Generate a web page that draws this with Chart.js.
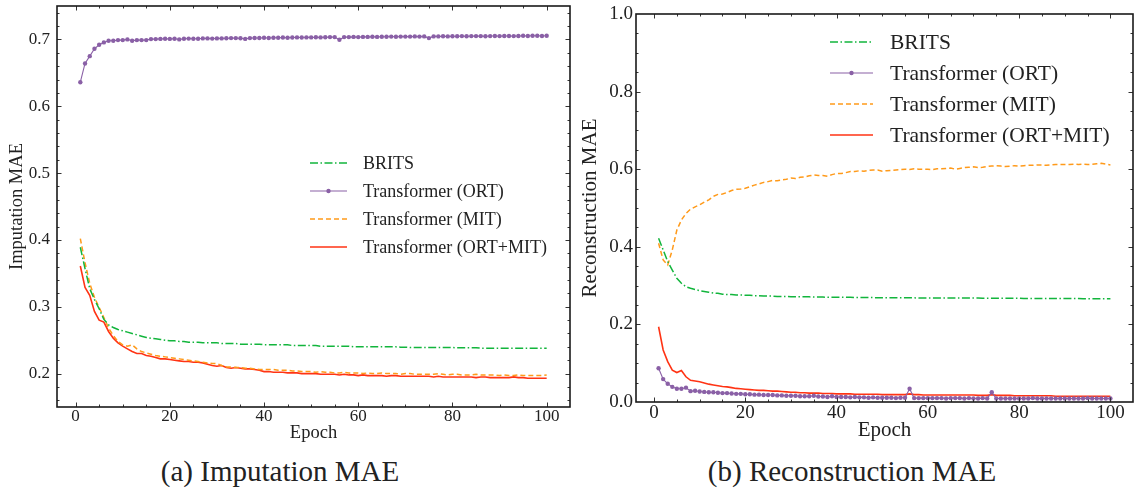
<!DOCTYPE html>
<html><head><meta charset="utf-8">
<script src="https://cdn.jsdelivr.net/npm/chart.js@4/dist/chart.umd.min.js"></script>
<style>
html,body{margin:0;padding:0;background:#fff;width:1136px;height:489px;overflow:hidden;position:relative}
.box{position:absolute;top:0}
.cap{position:absolute;top:457px;font-family:"Liberation Serif",serif;font-size:29px;line-height:1;color:#222;white-space:nowrap;transform:translateX(-50%)}
</style></head><body>
<div class="box" style="left:0;width:576px;height:445px"><canvas id="c1" width="576" height="445"></canvas></div>
<div class="box" style="left:576px;width:560px;height:445px"><canvas id="c2" width="560" height="445"></canvas></div>
<div class="cap" id="capA" style="left:280px"></div>
<div class="cap" id="capB" style="left:852px"></div>
<script>
const epochs = [1,2,3,4,5,6,7,8,9,10,11,12,13,14,15,16,17,18,19,20,21,22,23,24,25,26,27,28,29,30,31,32,33,34,35,36,37,38,39,40,41,42,43,44,45,46,47,48,49,50,51,52,53,54,55,56,57,58,59,60,61,62,63,64,65,66,67,68,69,70,71,72,73,74,75,76,77,78,79,80,81,82,83,84,85,86,87,88,89,90,91,92,93,94,95,96,97,98,99,100];
const seriesNames = ['BRITS','Transformer (ORT)','Transformer (MIT)','Transformer (ORT+MIT)'];
const captions = ['(a) Imputation MAE','(b) Reconstruction MAE'];
const xTitle = 'Epoch';
const yTitles = ['Imputation MAE','Reconstruction MAE'];
const xTicks = [0,20,40,60,80,100];
const xMinorTicks = [5,10,15,25,30,35,45,50,55,65,70,75,85,90,95];
const yTicksA = [0.2,0.3,0.4,0.5,0.6,0.7];
const yMinorTicksA = [0.16,0.18,0.22,0.24,0.26,0.28,0.32,0.34,0.36,0.38,0.42,0.44,0.46,0.48,0.52,0.54,0.56,0.58,0.62,0.64,0.66,0.68,0.72,0.74];
const yTicksB = [0.0,0.2,0.4,0.6,0.8,1.0];
const yMinorTicksB = [0.05,0.1,0.15,0.25,0.3,0.35,0.45,0.5,0.55,0.65,0.7,0.75,0.85,0.9,0.95];

// (a) Imputation MAE
const britsImp = [0.389,0.357,0.327,0.311,0.297,0.281,0.273,0.269,0.266,0.264,0.262,0.260,0.258,0.256,0.254,0.253,0.252,0.251,0.250,0.249,0.249,0.248,0.248,0.247,0.247,0.247,0.246,0.246,0.246,0.246,0.245,0.245,0.245,0.245,0.244,0.244,0.244,0.244,0.244,0.243,0.243,0.243,0.243,0.243,0.243,0.242,0.242,0.242,0.242,0.242,0.242,0.241,0.241,0.241,0.241,0.241,0.241,0.241,0.240,0.240,0.240,0.240,0.240,0.240,0.240,0.240,0.240,0.240,0.2395,0.2395,0.239,0.239,0.239,0.239,0.239,0.239,0.239,0.239,0.239,0.239,0.2385,0.2385,0.2385,0.2385,0.2385,0.238,0.238,0.238,0.238,0.238,0.238,0.238,0.238,0.238,0.238,0.238,0.238,0.238,0.238,0.238];
const ortImp = [0.636,0.664,0.675,0.686,0.692,0.6955,0.698,0.698,0.699,0.699,0.700,0.698,0.699,0.699,0.699,0.7005,0.7005,0.7008,0.701,0.7008,0.701,0.700,0.701,0.7012,0.701,0.701,0.7015,0.7015,0.7012,0.7015,0.7015,0.7018,0.702,0.702,0.7018,0.7008,0.702,0.7022,0.7022,0.7025,0.7022,0.7025,0.7025,0.7028,0.7025,0.7028,0.703,0.7028,0.703,0.703,0.7032,0.703,0.7032,0.7035,0.7035,0.6995,0.7035,0.7035,0.7038,0.7035,0.7038,0.7038,0.704,0.7038,0.704,0.704,0.7042,0.704,0.7042,0.7042,0.7042,0.7045,0.7042,0.7045,0.702,0.7045,0.7045,0.7048,0.7045,0.7048,0.7048,0.705,0.7048,0.705,0.705,0.705,0.7048,0.705,0.7052,0.705,0.7052,0.7052,0.705,0.7052,0.7055,0.7052,0.7055,0.7055,0.7052,0.7055];
const mitImp = [0.402,0.366,0.335,0.314,0.299,0.284,0.268,0.257,0.248,0.243,0.241,0.243,0.237,0.233,0.231,0.229,0.227,0.226,0.225,0.224,0.223,0.222,0.221,0.220,0.219,0.218,0.217,0.216,0.215,0.215,0.212,0.210,0.210,0.209,0.209,0.208,0.208,0.207,0.206,0.206,0.206,0.206,0.205,0.205,0.205,0.204,0.204,0.203,0.203,0.203,0.202,0.203,0.202,0.202,0.201,0.201,0.202,0.201,0.201,0.201,0.200,0.201,0.200,0.200,0.201,0.200,0.200,0.200,0.199,0.200,0.200,0.199,0.199,0.199,0.199,0.199,0.200,0.199,0.198,0.199,0.199,0.198,0.198,0.198,0.199,0.198,0.198,0.198,0.198,0.197,0.198,0.197,0.197,0.198,0.197,0.197,0.197,0.197,0.197,0.198];
const ortMitImp = [0.361,0.329,0.317,0.293,0.280,0.277,0.263,0.253,0.246,0.241,0.237,0.233,0.230,0.230,0.227,0.226,0.224,0.222,0.222,0.221,0.220,0.219,0.218,0.218,0.217,0.217,0.216,0.214,0.212,0.211,0.212,0.209,0.208,0.209,0.208,0.207,0.207,0.206,0.205,0.203,0.203,0.202,0.202,0.202,0.201,0.201,0.201,0.200,0.200,0.200,0.200,0.199,0.199,0.199,0.199,0.198,0.199,0.198,0.198,0.197,0.198,0.197,0.197,0.197,0.197,0.196,0.197,0.197,0.196,0.196,0.196,0.196,0.196,0.196,0.196,0.195,0.196,0.195,0.195,0.195,0.195,0.195,0.195,0.195,0.194,0.195,0.195,0.194,0.194,0.194,0.194,0.194,0.195,0.194,0.194,0.193,0.193,0.193,0.193,0.193];

// (b) Reconstruction MAE
const britsRec = [0.422,0.392,0.362,0.340,0.319,0.306,0.297,0.293,0.290,0.287,0.285,0.283,0.281,0.280,0.278,0.277,0.277,0.276,0.276,0.275,0.275,0.274,0.274,0.273,0.273,0.273,0.272,0.272,0.272,0.271,0.271,0.271,0.271,0.271,0.2705,0.2705,0.2705,0.270,0.270,0.270,0.270,0.270,0.270,0.2695,0.2695,0.2695,0.2695,0.269,0.269,0.269,0.269,0.269,0.269,0.2685,0.2685,0.2685,0.2685,0.268,0.268,0.268,0.268,0.268,0.268,0.268,0.268,0.268,0.268,0.2678,0.2678,0.2678,0.2678,0.2675,0.2675,0.2675,0.2675,0.2675,0.2675,0.2675,0.2675,0.2675,0.267,0.267,0.267,0.267,0.267,0.267,0.267,0.2665,0.2665,0.2665,0.2665,0.2665,0.2665,0.266,0.266,0.266,0.266,0.266,0.266,0.266];
const ortRec = [0.087,0.059,0.047,0.039,0.034,0.034,0.037,0.028,0.029,0.027,0.026,0.025,0.025,0.024,0.023,0.023,0.022,0.021,0.021,0.020,0.020,0.019,0.019,0.018,0.018,0.018,0.017,0.017,0.016,0.016,0.016,0.015,0.015,0.015,0.016,0.014,0.014,0.013,0.015,0.013,0.013,0.013,0.012,0.013,0.012,0.012,0.011,0.012,0.011,0.011,0.011,0.011,0.010,0.011,0.011,0.034,0.010,0.010,0.010,0.010,0.010,0.010,0.010,0.009,0.010,0.010,0.010,0.009,0.010,0.009,0.009,0.010,0.009,0.025,0.009,0.009,0.009,0.009,0.009,0.009,0.009,0.009,0.010,0.009,0.009,0.009,0.009,0.009,0.009,0.009,0.009,0.009,0.009,0.009,0.010,0.009,0.009,0.009,0.009,0.009];
const mitRec = [0.409,0.366,0.353,0.392,0.443,0.469,0.486,0.497,0.503,0.508,0.515,0.521,0.530,0.535,0.536,0.540,0.545,0.548,0.549,0.551,0.555,0.559,0.562,0.566,0.568,0.571,0.570,0.572,0.574,0.577,0.576,0.579,0.580,0.583,0.585,0.584,0.584,0.582,0.586,0.589,0.589,0.591,0.594,0.594,0.596,0.595,0.597,0.598,0.598,0.595,0.596,0.597,0.598,0.599,0.600,0.599,0.601,0.600,0.600,0.600,0.599,0.601,0.601,0.602,0.603,0.600,0.602,0.604,0.605,0.606,0.604,0.605,0.607,0.608,0.609,0.608,0.607,0.608,0.609,0.608,0.609,0.610,0.610,0.611,0.611,0.610,0.611,0.612,0.612,0.612,0.612,0.613,0.612,0.613,0.612,0.613,0.614,0.615,0.613,0.611];
const ortMitRec = [0.194,0.134,0.104,0.082,0.076,0.081,0.065,0.056,0.054,0.052,0.049,0.046,0.044,0.042,0.040,0.039,0.037,0.035,0.034,0.033,0.032,0.031,0.030,0.030,0.029,0.028,0.028,0.027,0.026,0.025,0.025,0.024,0.024,0.023,0.023,0.023,0.022,0.022,0.022,0.021,0.021,0.021,0.021,0.020,0.020,0.020,0.020,0.020,0.020,0.019,0.019,0.019,0.019,0.019,0.019,0.021,0.019,0.019,0.018,0.018,0.018,0.018,0.018,0.018,0.018,0.018,0.018,0.018,0.018,0.018,0.017,0.017,0.017,0.019,0.017,0.017,0.017,0.017,0.016,0.016,0.016,0.016,0.016,0.016,0.016,0.016,0.016,0.015,0.015,0.015,0.015,0.015,0.015,0.015,0.015,0.015,0.015,0.015,0.015,0.015];

const FONT = '"Liberation Serif", "Times New Roman", serif';
const TXT = '#222';
const styles = [
  {color:'#12b53c', dash:[8,2.5,1.5,2.5], width:1.5, radius:0},
  {color:'#8a60a6', dash:[], width:1.1, radius:2.2},
  {color:'#ff9a1a', dash:[5,3], width:1.5, radius:0},
  {color:'#ff3314', dash:[], width:1.6, radius:0}
];

const frameTicks = {
  id:'frameTicks',
  afterDatasetsDraw(chart, args, o){
    const {ctx, chartArea:a, scales:{x,y}} = chart;
    ctx.save();
    ctx.strokeStyle = '#333'; ctx.lineWidth = 1;
    ctx.beginPath();
    const xs = (vals,len)=>vals.forEach(v=>{const p=Math.round(x.getPixelForValue(v))+0.5; if(p<=a.left+1||p>=a.right-1)return; ctx.moveTo(p,a.bottom);ctx.lineTo(p,a.bottom-len);ctx.moveTo(p,a.top);ctx.lineTo(p,a.top+len);});
    const ys = (vals,len)=>vals.forEach(v=>{const p=Math.round(y.getPixelForValue(v))+0.5; if(p<=a.top+1||p>=a.bottom-1)return; ctx.moveTo(a.left,p);ctx.lineTo(a.left+len,p);ctx.moveTo(a.right,p);ctx.lineTo(a.right-len,p);});
    xs(o.xMajor,4.5); xs(o.xMinor,2.5); ys(o.yMajor,4.5); ys(o.yMinor,2.5);
    ctx.stroke();
    ctx.strokeStyle = '#1a1a1a'; ctx.lineWidth = 1.6;
    ctx.strokeRect(a.left, a.top, a.right-a.left, a.bottom-a.top);
    ctx.restore();
  }
};
const innerLegend = {
  id:'innerLegend',
  afterDraw(chart, args, o){
    const {ctx} = chart;
    ctx.save();
    chart.data.datasets.forEach((ds,i)=>{
      const yy = o.y0 + i*o.dy;
      ctx.strokeStyle = ds.borderColor; ctx.lineWidth = ds.borderWidth;
      ctx.setLineDash(ds.borderDash||[]);
      ctx.beginPath(); ctx.moveTo(o.x0,yy); ctx.lineTo(o.x1,yy); ctx.stroke();
      ctx.setLineDash([]);
      if (ds.pointRadius>0){ ctx.fillStyle = ds.borderColor; ctx.beginPath(); ctx.arc((o.x0+o.x1)/2,yy,ds.pointRadius,0,Math.PI*2); ctx.fill(); }
      ctx.fillStyle = TXT; ctx.font = o.size+'px '+FONT; ctx.textBaseline='middle'; ctx.textAlign='left';
      ctx.fillText(ds.label, o.tx, yy+1);
    });
    ctx.restore();
  }
};

function makeChart(id, seriesList, cfg){
  const datasets = seriesList.map((vals,i)=>({
    label: seriesNames[i],
    data: vals.map((v,k)=>({x:epochs[k], y:v})),
    borderColor: styles[i].color, backgroundColor: styles[i].color,
    borderDash: styles[i].dash, borderWidth: styles[i].width,
    pointRadius: styles[i].radius, pointHoverRadius: styles[i].radius,
    pointBackgroundColor: styles[i].color, pointBorderWidth: 0,
    tension: 0, fill: false
  }));
  return new Chart(document.getElementById(id), {
    type:'line',
    data:{datasets},
    options:{
      responsive:false, animation:false, devicePixelRatio:1,
      layout:{padding:cfg.padding},
      plugins:{legend:{display:false}, tooltip:{enabled:false},
        frameTicks:{xMajor:xTicks, xMinor:xMinorTicks, yMajor:cfg.yTicks, yMinor:cfg.yMinor},
        innerLegend:cfg.legend},
      scales:{
        x:{type:'linear', min:-3.95, max:104.95,
          afterBuildTicks:s=>{s.ticks = xTicks.map(v=>({value:v}));},
          afterFit:s=>{s.height = cfg.xH; s.paddingLeft = 0; s.paddingRight = 0;},
          grid:{display:false, drawTicks:false}, border:{display:false},
          ticks:{padding:cfg.xPad, color:TXT, font:{family:FONT, size:cfg.tick, lineHeight:1}, maxRotation:0, callback:v=>String(v)},
          title:{display:true, text:xTitle, color:TXT, font:{family:FONT, size:cfg.title, lineHeight:1.2}, padding:{top:0,bottom:cfg.xtPad}}
        },
        y:{type:'linear', min:cfg.yMin, max:cfg.yMax,
          afterBuildTicks:s=>{s.ticks = cfg.yTicks.map(v=>({value:v}));},
          afterFit:s=>{s.width = cfg.yW; s.paddingTop = 0; s.paddingBottom = 0;},
          grid:{display:false, drawTicks:false}, border:{display:false},
          ticks:{padding:cfg.yPad, color:TXT, font:{family:FONT, size:cfg.tick}, callback:v=>Number(v).toFixed(1)},
          title:{display:true, text:cfg.yTitle, color:TXT, font:{family:FONT, size:cfg.title, lineHeight:1.2}, padding:{top:cfg.ytPad,bottom:0}}
        }
      }
    },
    plugins:[frameTicks, innerLegend]
  });
}

makeChart('c1', [britsImp, ortImp, mitImp, ortMitImp], {
  padding:{left:0, top:6, right:6, bottom:0}, xH:38, yW:57,
  yMin:0.15, yMax:0.75, yTicks:yTicksA, yMinor:yMinorTicksA,
  tick:17, title:18.5, xPad:1, yPad:7, xtPad:0.5, ytPad:6.5, yTitle:yTitles[0],
  legend:{x0:310, x1:347, tx:363, y0:163, dy:28, size:18}
});
makeChart('c2', [britsRec, ortRec, mitRec, ortMitRec], {
  padding:{left:0, top:14, right:3, bottom:0}, xH:43, yW:60,
  yMin:0, yMax:1.0, yTicks:yTicksB, yMinor:yMinorTicksB,
  tick:19, title:21, xPad:1.5, yPad:3, xtPad:2, ytPad:1.5, yTitle:yTitles[1],
  legend:{x0:254, x1:297, tx:314, y0:42, dy:31, size:21.5}
});
document.getElementById('capA').textContent = captions[0];
document.getElementById('capB').textContent = captions[1];
</script>
</body></html>
